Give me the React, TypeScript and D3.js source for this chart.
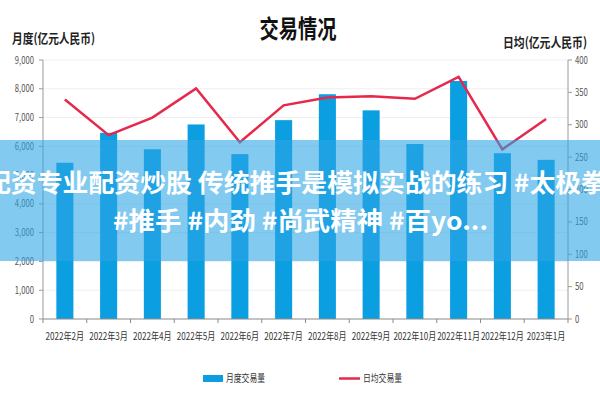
import React from "react";
import * as d3 from "d3";

const months = [
  "2022年2月", "2022年3月", "2022年4月", "2022年5月", "2022年6月", "2022年7月",
  "2022年8月", "2022年9月", "2022年10月", "2022年11月", "2022年12月", "2023年1月",
];
const monthlyVolume = [5430, 6470, 5900, 6760, 5730, 6910, 7810, 7250, 6080, 8270, 5760, 5530];
const dailyAverage = [339, 284, 311, 356, 273, 330, 342, 344, 340, 374, 262, 309];
const leftTicks = [0, 1000, 2000, 3000, 4000, 5000, 6000, 7000, 8000, 9000];
const rightTicks = [0, 50, 100, 150, 200, 250, 300, 350, 400];
const seriesNames = ["月度交易量", "日均交易量"];
const bannerLines = ["配资专业配资炒股 传统推手是模拟实战的练习 #太极拳", "#推手 #内劲 #尚武精神 #百yo..."];

const W = 600;
const H = 400;
const margin = { left: 43, right: 32, top: 60, bottom: 81 };
const FONT = "'Noto Sans CJK SC', 'Noto Sans', sans-serif";
const BAR = "#0b9fe2";
const LINE = "#e5284c";

// labels in the picture are squeezed horizontally, so fit them to a width
const narrow = (s: string) => {
  let w = 0;
  for (const ch of s) w += /[0-9]/.test(ch) ? 4.3 : ch === "," ? 2 : 8.6;
  return w;
};

const App = () => {
  const x = d3
    .scaleBand<string>()
    .domain(months)
    .range([margin.left, W - margin.right])
    .paddingInner(0.61)
    .paddingOuter(0.305);
  const yL = d3.scaleLinear().domain([0, 9000]).range([H - margin.bottom, margin.top]);
  const yR = d3.scaleLinear().domain([0, 400]).range([H - margin.bottom, margin.top]);
  const fmt = d3.format(",");
  const line = d3
    .line<number>()
    .x((_, i) => (x(months[i]) as number) + x.bandwidth() / 2)
    .y(d => yR(d));

  const x0 = margin.left;
  const x1 = W - margin.right;
  const yBase = yL(0);
  const step = x.step();

  return (
    <svg width={W} height={H} style={{ position: "absolute", left: 0, top: 0, background: "#fff" }} fontFamily={FONT}>
      <text x={298} y={38} textAnchor="middle" fontSize={25} fontWeight="bold" fill="#111" textLength={77} lengthAdjust="spacingAndGlyphs">
        交易情况
      </text>
      <text x={12} y={43} fontSize={13} fontWeight="bold" fill="#222" textLength={83} lengthAdjust="spacingAndGlyphs">
        月度(亿元人民币)
      </text>
      <text x={503} y={47} fontSize={13} fontWeight="bold" fill="#222" textLength={84} lengthAdjust="spacingAndGlyphs">
        日均(亿元人民币)
      </text>

      {leftTicks.slice(1).map(t => (
        <line key={"g" + t} x1={x0} x2={x1} y1={yL(t)} y2={yL(t)} stroke="#efefef" strokeWidth={1} />
      ))}

      {monthlyVolume.map((v, i) => (
        <rect key={months[i]} x={x(months[i])} y={yL(v)} width={x.bandwidth()} height={yBase - yL(v)} fill={BAR} />
      ))}

      <path d={line(dailyAverage) || ""} fill="none" stroke={LINE} strokeWidth={2.5} strokeLinejoin="miter" />

      {/* left axis */}
      <line x1={x0} x2={x0} y1={yL(9000)} y2={yBase} stroke="#9a9a9a" />
      {leftTicks.map(t => {
        const s = fmt(t);
        return (
          <g key={"l" + t}>
            <line x1={x0 - 4} x2={x0} y1={yL(t)} y2={yL(t)} stroke="#9a9a9a" />
            <text x={34} y={yL(t) + 3.5} textAnchor="end" fontSize={10.5} fill="#555" textLength={narrow(s)} lengthAdjust="spacingAndGlyphs">
              {s}
            </text>
          </g>
        );
      })}

      {/* right axis */}
      <line x1={x1} x2={x1} y1={yR(400)} y2={yBase} stroke="#9a9a9a" />
      {rightTicks.map(t => {
        const s = String(t);
        return (
          <g key={"r" + t}>
            <line x1={x1} x2={x1 + 4} y1={yR(t)} y2={yR(t)} stroke="#9a9a9a" />
            <text x={575} y={yR(t) + 3.5} fontSize={10.5} fill="#555" textLength={narrow(s)} lengthAdjust="spacingAndGlyphs">
              {s}
            </text>
          </g>
        );
      })}

      {/* bottom axis */}
      <line x1={x0} x2={x1} y1={yBase} y2={yBase} stroke="#8a8a8a" strokeWidth={1.2} />
      {d3.range(months.length + 1).map(i => (
        <line key={"b" + i} x1={x0 + i * step} x2={x0 + i * step} y1={yBase} y2={yBase + 4} stroke="#8a8a8a" />
      ))}
      {months.map(m => (
        <text
          key={"m" + m}
          x={(x(m) as number) + x.bandwidth() / 2}
          y={340}
          textAnchor="middle"
          fontSize={10.5}
          fill="#333"
          textLength={narrow(m)}
          lengthAdjust="spacingAndGlyphs"
        >
          {m}
        </text>
      ))}

      {/* legend */}
      <rect x={203} y={375} width={20} height={7} fill={BAR} />
      <text x={226} y={382} fontSize={10.5} fill="#333" textLength={39} lengthAdjust="spacingAndGlyphs">
        {seriesNames[0]}
      </text>
      <line x1={339} x2={360} y1={378.5} y2={378.5} stroke={LINE} strokeWidth={2.5} />
      <text x={363} y={382} fontSize={10.5} fill="#333" textLength={39} lengthAdjust="spacingAndGlyphs">
        {seriesNames[1]}
      </text>

      {/* overlay banner */}
      <rect x={0} y={140} width={W} height={121} fill="rgba(44,165,230,0.59)" />
      <text x={-15} y={192} fontSize={25} fontWeight="bold" fill="#fff" textLength={622} lengthAdjust="spacingAndGlyphs">
        {bannerLines[0]}
      </text>
      <text x={113} y={230} fontSize={25} fontWeight="bold" fill="#fff" textLength={375} lengthAdjust="spacingAndGlyphs">
        {bannerLines[1]}
      </text>
    </svg>
  );
};

export default App;
